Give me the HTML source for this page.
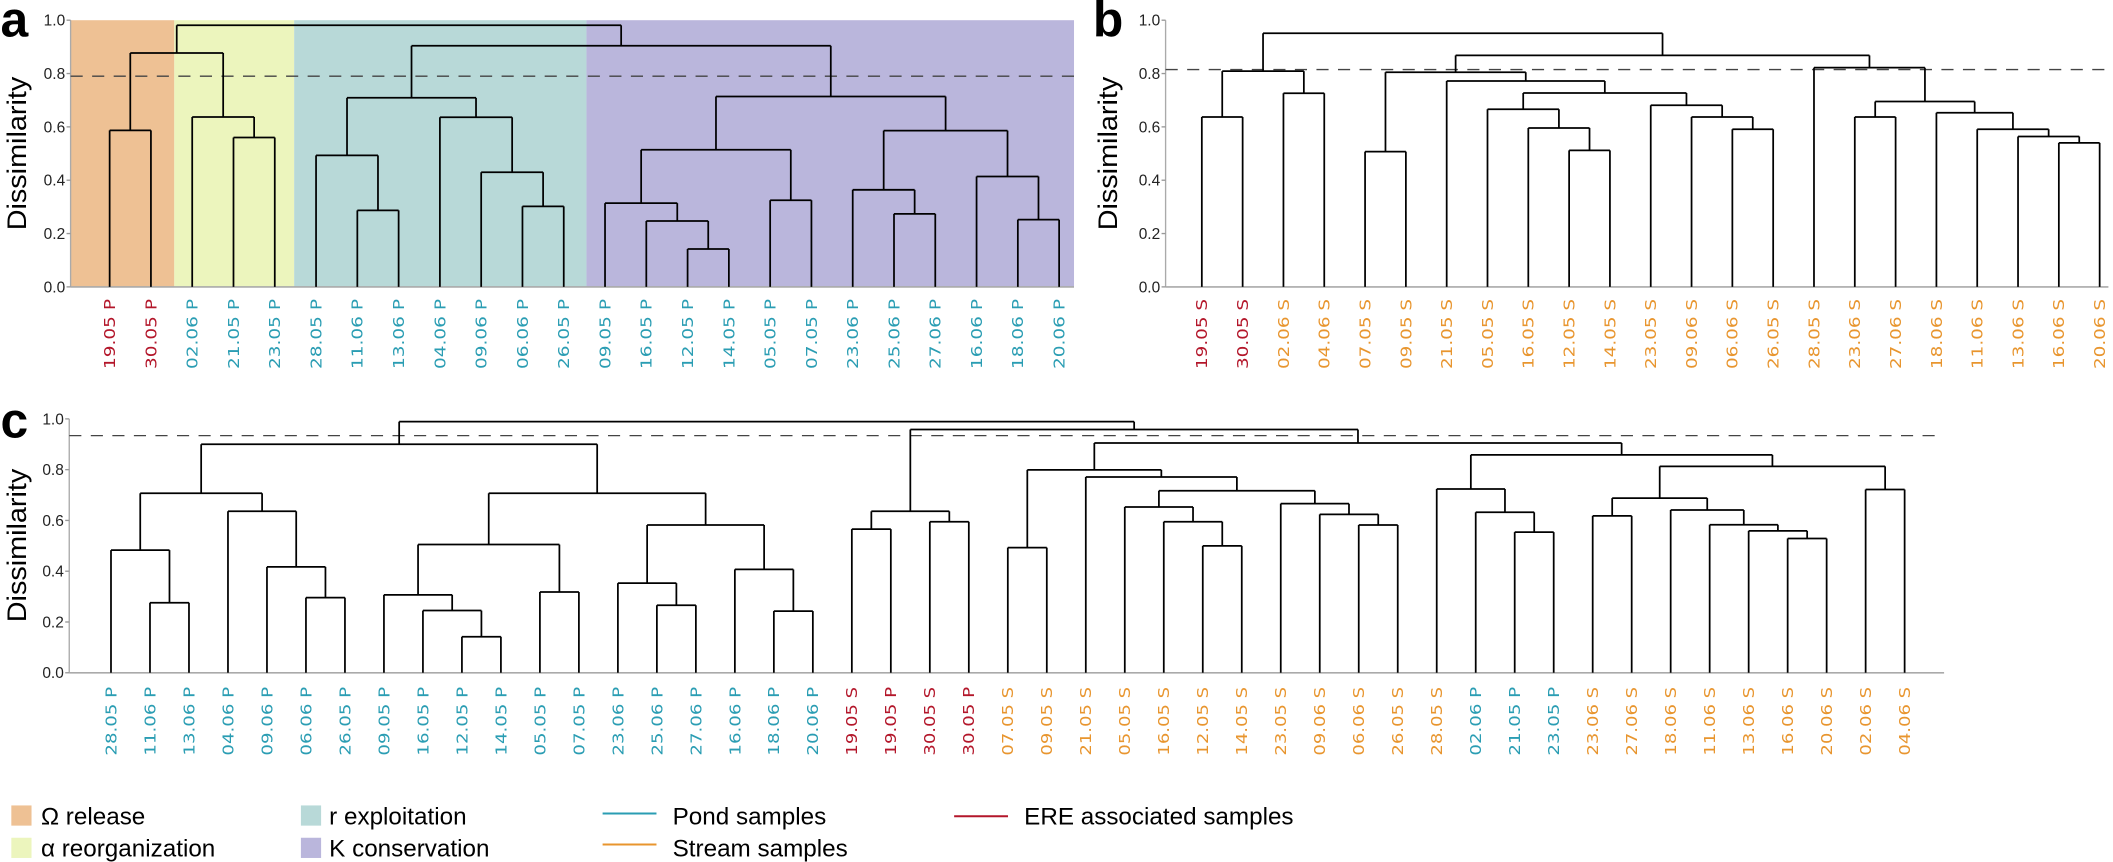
<!DOCTYPE html>
<html><head><meta charset="utf-8"><style>html,body{margin:0;padding:0;background:#fff}svg{display:block}</style></head>
<body>
<svg id="s" xmlns="http://www.w3.org/2000/svg" width="2113" height="862" viewBox="0 0 1568 640" font-family="'Liberation Sans', sans-serif">
<rect x="0" y="0" width="1568" height="640" fill="#fff"/>
<!-- panel a backgrounds -->
<rect x="52" y="15" width="77" height="198" fill="#eec194"/>
<rect x="129" y="15" width="89" height="198" fill="#ecf5bd"/>
<rect x="218" y="15" width="217" height="198" fill="#b8d9d8"/>
<rect x="435" y="15" width="362" height="198" fill="#bab6dc"/>
<g id="g"></g>
<!-- panel letters -->
<text x="0" y="27" font-size="37" font-weight="bold">a</text>
<text x="811" y="27" font-size="37" font-weight="bold">b</text>
<text x="0" y="325" font-size="37" font-weight="bold">c</text>
<text transform="translate(19,114) rotate(-90)" font-size="20" text-anchor="middle" textLength="114" lengthAdjust="spacingAndGlyphs">Dissimilarity</text>
<text transform="translate(829,114) rotate(-90)" font-size="20" text-anchor="middle" textLength="114" lengthAdjust="spacingAndGlyphs">Dissimilarity</text>
<text transform="translate(19,405) rotate(-90)" font-size="20" text-anchor="middle" textLength="114" lengthAdjust="spacingAndGlyphs">Dissimilarity</text>
<!-- legend -->
<rect x="8" y="598" width="15" height="15" fill="#eec194"/>
<rect x="8" y="622" width="15" height="15" fill="#ecf5bd"/>
<rect x="223" y="598" width="15" height="15" fill="#b8d9d8"/>
<rect x="223" y="622" width="15" height="15" fill="#bab6dc"/>
<text x="30" y="612" font-size="18">Ω release</text>
<text x="30" y="636" font-size="18">α reorganization</text>
<text x="244" y="612" font-size="18">r exploitation</text>
<text x="244" y="636" font-size="18">K conservation</text>
<line x1="447" y1="604" x2="487" y2="604" stroke="#2a9db3" stroke-width="1.5"/>
<line x1="447" y1="627" x2="487" y2="627" stroke="#e8952e" stroke-width="1.5"/>
<line x1="708" y1="606" x2="748" y2="606" stroke="#b3162a" stroke-width="1.5"/>
<text x="499" y="612" font-size="18">Pond samples</text>
<text x="499" y="636" font-size="18">Stream samples</text>
<text x="760" y="612" font-size="18">ERE associated samples</text>
</svg>
<script>
var NS="http://www.w3.org/2000/svg",G=document.getElementById('g');
function el(t,a,txt){var e=document.createElementNS(NS,t);for(var k in a)e.setAttribute(k,a[k]);if(txt!=null)e.textContent=txt;G.appendChild(e);return e;}
function line(x1,y1,x2,y2,c,w,d){var a={x1:x1,y1:y1,x2:x2,y2:y2,stroke:c||'#000','stroke-width':w||1.3};if(d)a['stroke-dasharray']=d;el('line',a);}
var TEAL='#2a9db3',ORG='#e8952e',RED='#b3162a';
function panel(o){
  var Y=function(v){return o.y0-(o.y0-o.y1)*v;};
  var X=function(i){return o.lx0+o.ls*i;};
  // axes
  line(o.ax,o.y0,o.ax2,o.y0,'#aaa',1.2);
  line(o.ax,o.y0,o.ax,o.y1,'#aaa',1);
  for(var t=0;t<=5;t++){var v=t*0.2,y=Y(v);line(o.ax-3,y,o.ax,y,'#999',1);
    el('text',{x:o.ax-4,y:y+4,'font-size':11.5,'text-anchor':'end',fill:'#222'},v.toFixed(1));}
  // dashed
  line(o.ax,Y(o.dash),o.dx2,Y(o.dash),'#444',1,'9,7');
  function draw(n){
    if(typeof n==='number')return {x:X(n),h:0};
    var a=draw(n[0]),b=draw(n[1]),h=n[2];
    line(a.x,Y(a.h),a.x,Y(h));line(b.x,Y(b.h),b.x,Y(h));line(a.x,Y(h),b.x,Y(h));
    return {x:(a.x+b.x)/2,h:h};
  }
  draw(o.tree);
  o.labels.forEach(function(l,i){
    el('text',{transform:'translate('+(X(i)+4)+','+o.lt+') rotate(-90)','font-family':"'DejaVu Sans', sans-serif",'font-size':11,'text-anchor':'end',fill:l[1],textLength:o.tl,lengthAdjust:'spacingAndGlyphs'},l[0]);
  });
}
function L(arr,col){return arr.map(function(s){return [s,col];});}
// panel a
var aL=L(['19.05 P','30.05 P'],RED).concat(L(['02.06 P','21.05 P','23.05 P','28.05 P','11.06 P','13.06 P','04.06 P','09.06 P','06.06 P','26.05 P','09.05 P','16.05 P','12.05 P','14.05 P','05.05 P','07.05 P','23.06 P','25.06 P','27.06 P','16.06 P','18.06 P','20.06 P'],TEAL));
var teal=[[5,[6,7,.287],.493],[8,[9,[10,11,.302],.43],.636],.709];
var purple=[[[12,[13,[14,15,.142],.247],.314],[16,17,.325],.514],[[18,[19,20,.274],.364],[21,[22,23,.252],.414],.586],.714];
var A=[[[0,1,.587],[2,[3,4,.56],.637],.877],[teal,purple,.904],.981];
panel({y0:213,y1:15,ax:52,ax2:797,dx2:797,dash:.79,lx0:81,ls:30.65,tree:A,labels:aL,lt:222,tl:52});
// panel b
var bL=L(['19.05 S','30.05 S'],RED).concat(L(['02.06 S','04.06 S','07.05 S','09.05 S','21.05 S','05.05 S','16.05 S','12.05 S','14.05 S','23.05 S','09.06 S','06.06 S','26.05 S','28.05 S','23.06 S','27.06 S','18.06 S','11.06 S','13.06 S','16.06 S','20.06 S'],ORG));
var bLft=[[0,1,.637],[2,3,.726],.809];
var M=[[4,5,.507],[6,[[7,[8,[9,10,.512],.596],.666],[11,[12,[13,14,.591],.637],.681],.727],.772],.805];
var R=[15,[[16,17,.637],[18,[19,[20,[21,22,.54],.564],.591],.653],.695],.822];
var B=[bLft,[M,R,.868],.951];
panel({y0:213,y1:15,ax:865,ax2:1565,dx2:1568,dash:.815,lx0:891.9,ls:30.3,tree:B,labels:bL,lt:222,tl:52});
// panel c
var cL=L(['28.05 P','11.06 P','13.06 P','04.06 P','09.06 P','06.06 P','26.05 P','09.05 P','16.05 P','12.05 P','14.05 P','05.05 P','07.05 P','23.06 P','25.06 P','27.06 P','16.06 P','18.06 P','20.06 P'],TEAL)
 .concat(L(['19.05 S','19.05 P','30.05 S','30.05 P'],RED))
 .concat(L(['07.05 S','09.05 S','21.05 S','05.05 S','16.05 S','12.05 S','14.05 S','23.05 S','09.06 S','06.06 S','26.05 S','28.05 S'],ORG))
 .concat(L(['02.06 P','21.05 P','23.05 P'],TEAL))
 .concat(L(['23.06 S','27.06 S','18.06 S','11.06 S','13.06 S','16.06 S','20.06 S','02.06 S','04.06 S'],ORG));
var P1=[[0,[1,2,.276],.483],[3,[4,[5,6,.296],.417],.636],.707];
var P2=[[[7,[8,[9,10,.142],.245],.307],[11,12,.318],.505],[[13,[14,15,.266],.353],[16,[17,18,.243],.407],.582],.707];
var E=[[19,20,.566],[21,22,.595],.636];
var S1=[[23,24,.493],[25,[[26,[27,[28,29,.5],.595],.653],[30,[31,[32,33,.582],.624],.666],.717],.771],.799];
var S2=[[34,[35,[36,37,.554],.632],.724],[[[38,39,.618],[40,[41,[42,[43,44,.529],.559],.583],.641],.688],[45,46,.722],.813],.858];
var C=[[P1,P2,.9],[E,[S1,S2,.905],.958],.989];
panel({y0:499.5,y1:311,ax:51,ax2:1443,dx2:1443,dash:.934,lx0:82,ls:28.95,tree:C,labels:cL,lt:510,tl:51});
</script>
</body></html>
